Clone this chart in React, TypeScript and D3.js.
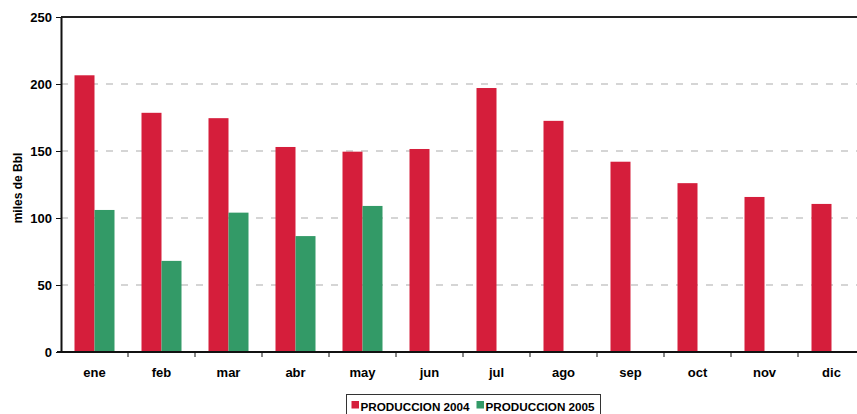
import React, { useEffect, useRef } from "react";
import * as d3 from "d3";

const months = ["ene", "feb", "mar", "abr", "may", "jun", "jul", "ago", "sep", "oct", "nov", "dic"];
const prod2004 = [206.5, 178.5, 174.5, 153, 149.5, 151.5, 197, 172.5, 142, 126, 115.7, 110.5];
const prod2005: (number | null)[] = [106, 68, 104, 86.5, 109, null, null, null, null, null, null, null];
const yTicks = [0, 50, 100, 150, 200, 250];
const seriesNames = ["PRODUCCION 2004", "PRODUCCION 2005"];
const colors = ["#D51E3B", "#339A67"];

export default function App() {
  const ref = useRef<SVGSVGElement>(null);
  useEffect(() => {
    const svg = d3.select(ref.current);
    svg.selectAll("*").remove();
    const left = 61, top = 17, right = 865, bottom = 352;
    const font = "'Liberation Sans', Arial, sans-serif";
    const y = d3.scaleLinear().domain([0, 250]).range([bottom, top]);
    const x0 = d3.scaleBand<string>().domain(months).range([left, right]).paddingInner(0).paddingOuter(0);
    const x1 = d3.scaleBand<string>().domain(["2004", "2005"]).range([0, x0.bandwidth()]).paddingInner(0).paddingOuter(0.675);

    // gridlines
    svg.append("g").selectAll("line").data(yTicks.filter(t => t > 0 && t < 250)).join("line")
      .attr("x1", left).attr("x2", 857).attr("y1", d => y(d)).attr("y2", d => y(d))
      .attr("stroke", "#c8c8c8").attr("stroke-width", 1.5).attr("stroke-dasharray", "7,8");

    // bars
    const g = svg.append("g");
    months.forEach((m, i) => {
      g.append("rect").attr("x", x0(m)! + x1("2004")!).attr("width", x1.bandwidth())
        .attr("y", y(prod2004[i])).attr("height", bottom - y(prod2004[i])).attr("fill", colors[0]);
      const v = prod2005[i];
      if (v != null) {
        g.append("rect").attr("x", x0(m)! + x1("2005")!).attr("width", x1.bandwidth())
          .attr("y", y(v)).attr("height", bottom - y(v)).attr("fill", colors[1]);
      }
    });

    // top border
    svg.append("line").attr("x1", left).attr("x2", 857).attr("y1", top).attr("y2", top)
      .attr("stroke", "#222").attr("stroke-width", 2);

    // y axis
    const ya = svg.append("g").attr("transform", `translate(${left},0)`)
      .call(d3.axisLeft(y).tickValues(yTicks).tickSize(5).tickPadding(4).tickSizeOuter(0));
    ya.select(".domain").attr("stroke", "#111").attr("stroke-width", 2);
    ya.selectAll(".tick line").attr("stroke", "#111").attr("stroke-width", 1);
    ya.selectAll(".tick text").attr("font-family", font).attr("font-size", 13).attr("font-weight", "bold").attr("fill", "#000");

    // x axis
    const xa = svg.append("g").attr("transform", `translate(0,${bottom})`)
      .call(d3.axisBottom(x0).tickSize(0).tickPadding(16));
    xa.select(".domain").remove();
    xa.selectAll(".tick text").attr("font-family", font).attr("font-size", 13).attr("font-weight", "bold").attr("fill", "#000");
    svg.append("line").attr("x1", left - 4).attr("x2", 857).attr("y1", bottom).attr("y2", bottom)
      .attr("stroke", "#111").attr("stroke-width", 2);
    svg.append("g").selectAll("line").data(months.slice(1)).join("line")
      .attr("x1", d => x0(d)!).attr("x2", d => x0(d)!).attr("y1", bottom).attr("y2", bottom + 5)
      .attr("stroke", "#111").attr("stroke-width", 1);

    // y title
    svg.append("text").attr("transform", `translate(22,188) rotate(-90)`)
      .attr("text-anchor", "middle").attr("font-family", font).attr("font-size", 12).attr("font-weight", "bold")
      .text("miles de Bbl");

    // legend
    const lg = svg.append("g");
    lg.append("rect").attr("x", 346.5).attr("y", 394.5).attr("width", 254).attr("height", 26)
      .attr("fill", "#fff").attr("stroke", "#333").attr("stroke-width", 1);
    const lx = [351.5, 476.5];
    seriesNames.forEach((s, i) => {
      lg.append("rect").attr("x", lx[i]).attr("y", 401).attr("width", 7.5).attr("height", 7.5).attr("fill", colors[i]);
      lg.append("text").attr("x", lx[i] + 9).attr("y", 410.5).attr("font-family", font).attr("font-size", 11.7)
        .attr("font-weight", "bold").text(s);
    });
  }, []);
  return (
    <svg ref={ref} width={857} height={414} style={{ position: "absolute", left: 0, top: 0, background: "#fff" }} />
  );
}
